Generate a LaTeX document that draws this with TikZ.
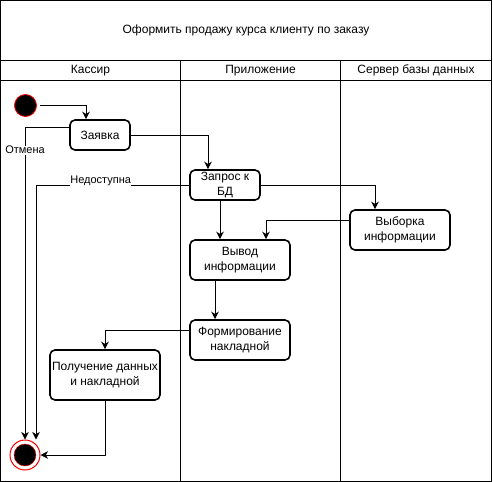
\documentclass[tikz,border=0pt]{standalone}
\usepackage{fontspec}
\setmainfont{Liberation Sans}
\usetikzlibrary{arrows.meta,calc}
\begin{document}
\begin{tikzpicture}[x=1pt,y=-1pt,
  act/.style={draw=black,line width=1.6pt,rounded corners=5pt,fill=white,align=center,inner sep=0pt,font=\fontsize{12}{15}\selectfont},
  arr/.style={draw=black,line width=1pt,-{Stealth[length=7.5pt,width=7.5pt,inset=2.2pt]}},
  lane/.style={draw=black,line width=1pt},
  lbl/.style={fill=white,inner sep=0.5pt,font=\fontsize{11}{13}\selectfont},
  hdr/.style={font=\fontsize{12}{14}\selectfont}]
\useasboundingbox (0,0) rectangle (493,482);
% swimlanes
\draw[lane] (0.5,0.5) rectangle (491,481);
\draw[lane] (0.5,60.5) -- (491,60.5);
\draw[lane] (0.5,80.5) -- (491,80.5);
\draw[lane] (180.5,60.5) -- (180.5,481);
\draw[lane] (340.5,60.5) -- (340.5,481);
\node[hdr] (title) at (246,30) {Оформить продажу курса клиенту по заказу};
\node[hdr] (h1) at (90.5,70.5) {Кассир};
\node[hdr] (h2) at (260.5,70.5) {Приложение};
\node[hdr] (h3) at (416,70.5) {Сервер базы данных};
% nodes
\node[circle,draw=red,fill=black,line width=0.8pt,minimum size=22pt,inner sep=0pt] (start) at (25.5,105.5) {};
\node[circle,draw=red,fill=white,line width=1pt,minimum size=30pt,inner sep=0pt] (endc) at (25,455) {};
\node[circle,draw=red,fill=black,line width=0.4pt,minimum size=22pt,inner sep=0pt] (endin) at (25,455) {};
\node[act,minimum width=60pt,minimum height=30pt] (zay) at (100,135) {Заявка};
\node[act,minimum width=70pt,minimum height=30pt] (zap) at (225,185) {Запрос к\\БД};
\node[act,minimum width=100pt,minimum height=40pt] (vyb) at (400,230) {Выборка\\информации};
\node[act,minimum width=100pt,minimum height=40pt] (vyv) at (240,260) {Вывод\\информации};
\node[act,minimum width=100pt,minimum height=40pt] (form) at (240,340) {Формирование\\накладной};
\node[act,minimum width=110pt,minimum height=50pt] (pol) at (105,375) {Получение данных\\и накладной};
% connectors
\draw[arr,shorten <=3.5pt] (start.east) -| ([xshift=-14pt]zay.north);
\draw[arr] (zay.east) -| ([xshift=-17pt]zap.north);
\draw[arr] ([yshift=7.3pt]zay.west) -| (endc.north) node[lbl,pos=0.536] (otm) {Отмена};
\draw[arr] (zap.west) -| ([xshift=11pt]endc.north) node[lbl,pos=0.289,yshift=4pt] (ned) {Недоступна};
\draw[arr] ([xshift=-5pt]zap.south) -- ([xshift=-5pt]zap.south |- vyv.north);
\draw[arr] (zap.east) -| ([xshift=-25pt]vyb.north);
\draw[arr] ([yshift=9.3pt]vyb.west) -| ([xshift=26pt]vyv.north);
\draw[arr] ([xshift=-25pt]vyv.south) -- ([xshift=-25pt]vyv.south |- form.north);
\draw[arr] ([yshift=9.3pt]form.west) -| (pol.north);
\draw[arr] (pol.south) |- (endc.east);
\end{tikzpicture}
\end{document}
